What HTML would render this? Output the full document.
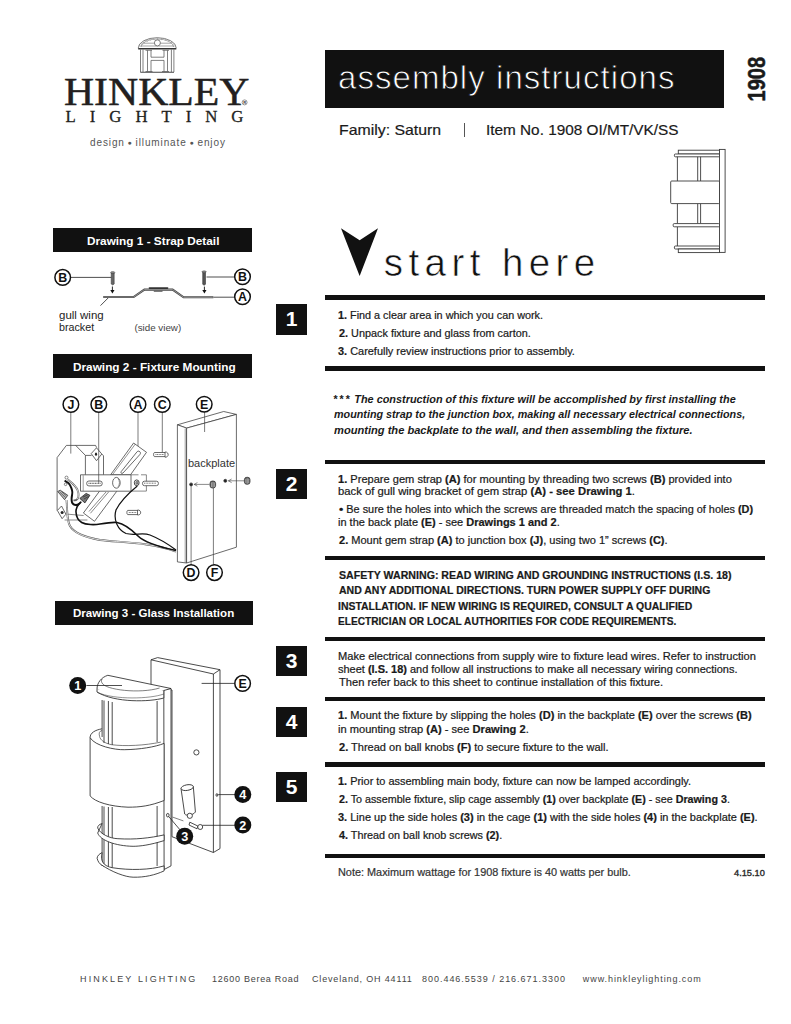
<!DOCTYPE html><html><head><meta charset="utf-8"><style>
html,body{margin:0;padding:0;background:#fff;width:791px;height:1024px;overflow:hidden;position:relative}
.t{position:absolute;white-space:nowrap}
.t b{font-weight:700}
.a{position:absolute}
</style></head><body>

<div class="a" style="left:324.5px;top:50.4px;width:399px;height:57.2px;background:#111"></div>
<div class="a" style="left:464px;top:123px;width:1px;height:14px;background:#555"></div>
<div class="a" style="left:53.3px;top:228.3px;width:198.4px;height:23.7px;background:#111"></div>
<div class="a" style="left:53.3px;top:354.2px;width:198.4px;height:23.6px;background:#111"></div>
<div class="a" style="left:54.7px;top:600.6px;width:198.3px;height:24.2px;background:#111"></div>
<div class="a" style="left:324.5px;top:295.4px;width:440.5px;height:4.3px;background:#111"></div>
<div class="a" style="left:324.5px;top:366.3px;width:440.5px;height:4.3px;background:#111"></div>
<div class="a" style="left:324.5px;top:460.1px;width:440.5px;height:4.3px;background:#111"></div>
<div class="a" style="left:324.5px;top:556.2px;width:440.5px;height:4.3px;background:#111"></div>
<div class="a" style="left:324.5px;top:636.6px;width:440.5px;height:4.3px;background:#111"></div>
<div class="a" style="left:324.5px;top:697.2px;width:440.5px;height:4.3px;background:#111"></div>
<div class="a" style="left:324.5px;top:762.4px;width:440.5px;height:4.3px;background:#111"></div>
<div class="a" style="left:324.5px;top:853.5px;width:440.5px;height:4.3px;background:#111"></div>
<div class="a" style="left:276.2px;top:304.3px;width:30.6px;height:30.4px;background:#111;color:#fff;font-family:'Liberation Sans', sans-serif;font-weight:700;font-size:21px;line-height:30.4px;text-align:center">1</div>
<div class="a" style="left:276.2px;top:469.0px;width:30.6px;height:29.8px;background:#111;color:#fff;font-family:'Liberation Sans', sans-serif;font-weight:700;font-size:21px;line-height:29.8px;text-align:center">2</div>
<div class="a" style="left:276.2px;top:645.6px;width:30.6px;height:30.4px;background:#111;color:#fff;font-family:'Liberation Sans', sans-serif;font-weight:700;font-size:21px;line-height:30.4px;text-align:center">3</div>
<div class="a" style="left:276.2px;top:706.5px;width:30.6px;height:30.1px;background:#111;color:#fff;font-family:'Liberation Sans', sans-serif;font-weight:700;font-size:21px;line-height:30.1px;text-align:center">4</div>
<div class="a" style="left:276.2px;top:771.7px;width:30.6px;height:29.9px;background:#111;color:#fff;font-family:'Liberation Sans', sans-serif;font-weight:700;font-size:21px;line-height:29.9px;text-align:center">5</div>
<svg class="a" style="left:0;top:0" width="791" height="1024" viewBox="0 0 791 1024">
<path d="M341,228.3 L359.65,240.3 L378,228.3 L359.65,276 Z" fill="#111"/>
<text transform="translate(765.4,101.5) rotate(-90)" font-family="'Liberation Sans', sans-serif" font-weight="700" font-size="23.2" fill="#1a1a1a" stroke="#1a1a1a" stroke-width="0.5" textLength="44.7" lengthAdjust="spacingAndGlyphs">1908</text>

<g fill="none" stroke="#555" stroke-width="0.75">
 <path d="M138.2,48.2 A19.05,10.5 0 0 1 176.3,48.2"/>
 <path d="M140.9,47 A16.35,8 0 0 1 173.6,47" stroke="#777" stroke-width="0.6"/>
 <path d="M138.7,45.7 L142.0,46.2 M140.1,43.6 L143.2,44.5 M142.4,41.6 L145.1,43.0 M145.4,40.0 L147.8,41.7 M149.0,38.8 L150.9,40.8 M153.0,38.1 L154.4,40.2 M157.2,37.8 L158.1,40.0 M161.5,38.1 L161.7,40.2 M165.5,38.8 L165.2,40.8 M169.1,40.0 L168.3,41.7 M172.1,41.6 L171.0,43.0 M174.4,43.6 L172.9,44.5 M175.8,45.7 L174.1,46.2" stroke="#888" stroke-width="0.5"/>
 <path d="M143.2,43.2 H171.6 M141.6,46 H173.8" stroke="#666" stroke-width="0.6"/>
 <circle cx="157.4" cy="42.9" r="3" fill="#fff"/>
 <path d="M138.2,48.7 L176.3,48.7" stroke="#333" stroke-width="1.5"/>
 <path d="M140.5,49.5 V72 M143,49.5 V72 M171.4,49.5 V72 M173.9,49.5 V72"/>
 <path d="M140.3,72.2 H174"  stroke="#444" stroke-width="1.1"/>
 <path d="M145.5,50.3 H152 M147.5,50.3 V71.5 M151,50.3 V57.2 M151,60.4 V71.5 M145.5,71.5 H152.5 M162.5,50.3 H169 M164,50.3 V57.2 M164,60.4 V71.5 M167.5,50.3 V71.5 M162,71.5 H169 M151,57.2 H164 M151,60.4 H164"/>
</g>
<circle cx="244.6" cy="102.4" r="2.5" fill="none" stroke="#333" stroke-width="0.5"/><text x="244.6" y="103.9" font-family="'Liberation Sans', sans-serif" font-size="4" font-weight="700" fill="#333" text-anchor="middle">R</text>

<g fill="#fff" stroke="#3a3a3a" stroke-width="0.9">
 <rect x="678.3" y="150.2" width="41.2" height="3.8"/>
 <rect x="674.4" y="154" width="45.1" height="2.8" rx="1"/>
 <path d="M677.4,156.8 V181 M697.7,156.8 V181 M700.6,156.8 V181"/>
 <path d="M677.4,203.6 V223.6 M697.7,203.6 V223.6 M700.6,203.6 V223.6 M677.4,226.8 V246"/>
 <rect x="670.7" y="181" width="48.8" height="22.6" rx="1"/>
 <rect x="673.2" y="223.6" width="46.3" height="3.2" rx="1"/>
 <rect x="674.4" y="246" width="45.1" height="3" rx="1"/>
 <rect x="678.3" y="249" width="41.2" height="3.6"/>
 <rect x="719.5" y="149.4" width="5.6" height="103"/>
</g>
<g><circle cx="62.7" cy="277.4" r="7.8" fill="#fff" stroke="#111" stroke-width="1.5"/><text x="62.7" y="281.9" font-family="'Liberation Sans', sans-serif" font-weight="700" font-size="12.4" fill="#111" text-anchor="middle">B</text><circle cx="242.5" cy="276.8" r="7.8" fill="#fff" stroke="#111" stroke-width="1.5"/><text x="242.5" y="281.3" font-family="'Liberation Sans', sans-serif" font-weight="700" font-size="12.4" fill="#111" text-anchor="middle">B</text><circle cx="242.5" cy="296.8" r="7.8" fill="#fff" stroke="#111" stroke-width="1.5"/><text x="242.5" y="301.3" font-family="'Liberation Sans', sans-serif" font-weight="700" font-size="12.4" fill="#111" text-anchor="middle">A</text><path d="M71,277.4 H111.5 M206.5,277 H234.2 M213.5,297.2 H234.2 M108.3,297.8 L100.5,305.6" stroke="#222" stroke-width="0.8" fill="none"/><path d="M111.2,273 h3 v11 l-1.5,1 l-1.5,-1 z" fill="#666" stroke="#333" stroke-width="0.5"/><ellipse cx="112.7" cy="272.6" rx="2.2" ry="1" fill="#888" stroke="#333" stroke-width="0.4"/><path d="M202.7,272.3 h2.8 v12 l-1.4,1 l-1.4,-1 z" fill="#555" stroke="#222" stroke-width="0.5"/><ellipse cx="204.1" cy="271.8" rx="2.2" ry="1" fill="#888" stroke="#333" stroke-width="0.4"/><path d="M112.4,286.5 V291" stroke="#111" stroke-width="0.9"/><path d="M110.3,290 h4.2 l-2.1,3.6 z" fill="#111"/><path d="M204.4,286.6 V291" stroke="#111" stroke-width="0.9"/><path d="M202.3,290 h4.2 l-2.1,3.6 z" fill="#111"/><path d="M103.3,297 H133.6 L144.4,289.6 H172.6 L183.6,297.3 H213.4" fill="none" stroke="#444" stroke-width="2.1"/><path d="M103.8,297 H133.6 L144.4,289.6 H172.6 L183.6,297.3 H212.8" fill="none" stroke="#9a9a9a" stroke-width="0.9"/><rect x="148.6" y="287.2" width="19.8" height="1.7" rx="0.8" fill="#333"/><path d="M153.8,291.3 H162.5" stroke="#333" stroke-width="0.8"/></g>
<g fill="none" stroke="#3a3a3a" stroke-width="0.75"><path d="M177.4,424.8 L223.7,411.5 L236.4,414.4 L186.6,428.1 Z" fill="#fff"/><path d="M177.4,424.8 V561.9 L186.6,563 V428.1 Z" fill="#fff"/><path d="M186.6,428.1 L236.4,414.4 V547.2 L186.6,563 Z" fill="#fff"/><path d="M185.2,428.5 V562.8" stroke-width="0.5"/><path d="M57.1,510.5 V457.6 L66.4,445.4 H95.6 L96.6,447.6 M75.7,445.4 L85.4,455.4 H91.6 M85.4,455.4 V474.8 M103.5,455.8 V474.8 M101.8,454 L103.5,455.8"/><path d="M91.2,453.6 L96.5,447.8 L101.8,454 L96.5,460.7 Z" fill="#fff"/><ellipse cx="96" cy="454.2" rx="1.1" ry="1.6" fill="#222" stroke="none"/><path d="M57.4,510.5 L61.5,506 L65.9,514.2 L62.1,518.7 Z" fill="#fff"/><circle cx="62.1" cy="512.4" r="1.5" fill="#222" stroke="none"/><path d="M64.6,520 L87.4,520 M67.8,514.2 L83.6,515.5" stroke-width="0.6"/><path d="M133.6,443 L146.5,452.3 L130.5,474.8 H110.6 Z" fill="#fff"/><path d="M135.4,444 L112.4,474.8" stroke-width="0.55"/><path d="M139,451.2 C140.5,452 141,453 139.8,454.6 L123,473 C121.7,474 120.3,473 121.2,471.6 L137.2,451.6 C137.7,451 138.4,450.9 139,451.2 Z" fill="#fff"/><path d="M116.8,491.2 L94.5,521.3 L83.4,513 L99.5,491.2" fill="#fff"/><path d="M108.6,492 L90.4,513.3 M106,492 L89,511.5" stroke-width="0.6"/><path d="M80.5,474.8 H131 V491.2 H80.5 Z" fill="#fff"/><path d="M83.2,475.3 V490.8" stroke-width="0.5"/><path d="M131,474.8 H138.5 M141,474.8 H146.4 V491.1 H131" stroke-width="0.6"/><ellipse cx="116.4" cy="482.8" rx="3.8" ry="5.4" fill="#fff"/><path d="M118,478.5 A3.8,5.4 0 0 1 118,487" stroke="#888" stroke-width="1"/><rect x="86.7" y="481" width="15.5" height="4.9" rx="2.2" fill="#fff"/><path d="M88.5,483.4 H100.5" stroke="#666" stroke-width="1.2" stroke-dasharray="1 0.6"/><ellipse cx="136.7" cy="482.8" rx="2.4" ry="2.9" fill="#fff" stroke="#333" stroke-width="0.9"/><ellipse cx="136.9" cy="482.8" rx="1.2" ry="1.6" fill="#999" stroke="#333" stroke-width="0.5"/><rect x="142.5" y="481.2" width="15.9" height="4.5" rx="2" fill="#fff"/><path d="M144,483.2 H156" stroke="#777" stroke-width="1" stroke-dasharray="1 0.6"/><path d="M154.4,452.5 H165 M154.4,456.6 H165 M154.4,452.5 C153.3,452.5 153.3,456.6 154.4,456.6 M165,452 C169,451.5 169.5,457.5 165,457.2 Z" fill="#fff"/><path d="M155.5,454.5 H164" stroke="#777" stroke-width="1" stroke-dasharray="1 0.6"/><path d="M127.7,510.4 H137.5 M127.7,514.6 H137.5 M127.7,510.4 C126.6,510.4 126.6,514.6 127.7,514.6 M137.5,510 C141.5,509.5 142,515.3 137.5,515 Z" fill="#fff"/><path d="M128.8,512.5 H136.5" stroke="#777" stroke-width="1" stroke-dasharray="1 0.6"/><path d="M66.5,500 C67.5,510 66.5,520 70,526 C74,533 84,537 100,540 C120,542.5 150,542 176,551.5" stroke="#555" stroke-width="1.9"/><path d="M66.5,500 C67.5,510 66.5,520 70,526 C74,533 84,537 100,540 C120,542.5 150,542 176,551.5" stroke="#fff" stroke-width="0.8"/><path d="M137.3,486 C130,492 121,500 116,510 C113,520 118,530 126,533.5 C135,536 142,532 150,535 C160,539 168,544 176,550" stroke="#111" stroke-width="1.2"/><path d="M79.8,502.9 C77,506 75.8,509 76,512 C76.2,516 77.5,520 81.7,522.5 C86,525 95,525 100,524 C106,523 112,522 117,522.5 C125,524 132,530 138,536 C144,542 155,546 176,550.5" stroke="#111" stroke-width="1.6"/><path d="M67.8,479.5 C72,483 76,486 77.5,490 C79,494 78.5,497.5 77.3,499.1 C76,500.5 74.5,500.5 73.5,500.3" stroke="#666" stroke-width="1.9"/><path d="M67.8,479.5 C72,483 76,486 77.5,490 C79,494 78.5,497.5 77.3,499.1" stroke="#fff" stroke-width="0.7"/><path d="M64.6,480.7 C67,482 69.5,483.5 70.3,485.8 C72,489 72.6,492 72.2,494 C71.6,497 71.2,500 72,502.5 C73,504.5 75.5,505.2 77.3,504.8 C79,504.4 80.5,502.8 81.1,501.6" stroke="#111" stroke-width="1.9"/><circle cx="66.5" cy="477.6" r="1.5" fill="#fff" stroke-width="0.6"/><circle cx="65.6" cy="484.3" r="1.3" fill="#fff" stroke-width="0.6"/><path d="M57.7,491.5 L60.2,490.2 L67.8,495.3 L64.6,499.7 Z" fill="#bbb" stroke="#222" stroke-width="0.7"/><path d="M59.5,491.8 L65.5,497.5 M61.5,491.5 L66.5,496" stroke="#333" stroke-width="0.6"/><path d="M79.8,498.4 L86.1,493.4 L89.9,495.3 L84.9,502.9 Z" fill="#777" stroke="#111" stroke-width="0.7"/><path d="M83,497 L87.5,495 M84,499 L88.5,496.5" stroke="#222" stroke-width="0.6"/><circle cx="191.1" cy="484.4" r="1.5" fill="#222"/><path d="M194.2,484.4 H209.5 M194.2,484.4 l3.2,-1.8 M194.2,484.4 l3.2,1.8" stroke-width="0.6"/><rect x="210" y="481" width="5.6" height="7" rx="2.4" fill="#666" stroke="#222" stroke-width="0.7"/><path d="M211.5,482.5 V487 M213,482 V487.5 M214.4,482.5 V487" stroke="#ddd" stroke-width="0.5"/><circle cx="225.3" cy="480.8" r="1.5" fill="#222"/><path d="M228.4,480.8 H244 M228.4,480.8 l3.2,-1.8 M228.4,480.8 l3.2,1.8" stroke-width="0.6"/><rect x="244.4" y="477.3" width="5.6" height="7" rx="2.4" fill="#666" stroke="#222" stroke-width="0.7"/><path d="M245.9,478.8 V483.3 M247.3,478.3 V483.8 M248.7,478.8 V483.3" stroke="#ddd" stroke-width="0.5"/><path d="M70.8,412.5 V453.6 M98.7,412.5 V482.8 M138,412.5 V446 M162.3,412.5 V452.3 M204.6,412 V432 M191.1,486 V565 M213.4,488 V565" stroke="#444" stroke-width="0.7"/></g><circle cx="70.9" cy="404.4" r="7.8" fill="#fff" stroke="#111" stroke-width="1.5"/><text x="70.9" y="408.9" font-family="'Liberation Sans', sans-serif" font-weight="700" font-size="12.4" fill="#111" text-anchor="middle">J</text><circle cx="98.8" cy="404.4" r="7.8" fill="#fff" stroke="#111" stroke-width="1.5"/><text x="98.8" y="408.9" font-family="'Liberation Sans', sans-serif" font-weight="700" font-size="12.4" fill="#111" text-anchor="middle">B</text><circle cx="138.0" cy="404.4" r="7.8" fill="#fff" stroke="#111" stroke-width="1.5"/><text x="138.0" y="408.9" font-family="'Liberation Sans', sans-serif" font-weight="700" font-size="12.4" fill="#111" text-anchor="middle">A</text><circle cx="162.3" cy="404.4" r="7.8" fill="#fff" stroke="#111" stroke-width="1.5"/><text x="162.3" y="408.9" font-family="'Liberation Sans', sans-serif" font-weight="700" font-size="12.4" fill="#111" text-anchor="middle">C</text><circle cx="204.2" cy="404.2" r="7.8" fill="#fff" stroke="#111" stroke-width="1.5"/><text x="204.2" y="408.7" font-family="'Liberation Sans', sans-serif" font-weight="700" font-size="12.4" fill="#111" text-anchor="middle">E</text><circle cx="191.1" cy="572.6" r="7.8" fill="#fff" stroke="#111" stroke-width="1.5"/><text x="191.1" y="577.1" font-family="'Liberation Sans', sans-serif" font-weight="700" font-size="12.4" fill="#111" text-anchor="middle">D</text><circle cx="214.5" cy="572.6" r="7.8" fill="#fff" stroke="#111" stroke-width="1.5"/><text x="214.5" y="577.1" font-family="'Liberation Sans', sans-serif" font-weight="700" font-size="12.4" fill="#111" text-anchor="middle">F</text>
<g fill="none" stroke="#2a2a2a" stroke-width="0.85"><path d="M151,659.8 L157.6,657.6 L220,669.7 V848.6 L213.4,852.5 L172,836.7 V690 L151,686 Z" fill="#fff"/><path d="M151,659.8 L213.4,674 V852.5 M213.4,674 L220,669.7"/><circle cx="196.4" cy="752.4" r="2.6"/><ellipse cx="216.9" cy="795" rx="0.9" ry="1.4"/><path d="M181,788.5 L184.7,814 C186,816 193,815.5 195.4,812 L193.3,786.5" fill="#fff"/><ellipse cx="187.2" cy="787.6" rx="6.2" ry="2.8" transform="rotate(-10 187.2 787.6)" fill="#fff"/><circle cx="189.8" cy="815.8" r="2.6" fill="#fff"/><path d="M172.6,817.1 L183.4,820.9" stroke-width="0.6"/><path d="M189.8,822.2 L197.8,826 L197,828.8 L189,825 Z" fill="#fff"/><circle cx="200.2" cy="827" r="2.5" fill="#fff"/><path d="M163.8,689 L171,688.5 V865.9 L164.1,869.5 Z" fill="#fff"/><path d="M97,689.2 C97,683 101,677.5 107.8,675.3 L171,688.5 L163.8,690.5 C150,697 115,698 97,689.2 Z" fill="#fff"/><path d="M97,689.2 V692 C115,703 150,702 163.8,698 V690.5" fill="#fff"/><path d="M102,682.9 C105,690 140,694 159.6,688" stroke-width="0.6"/><path d="M97.5,692.5 C115,700 150,699 163.8,694" stroke-width="0.5"/><path d="M102.1,679 C101,681 101.5,682 102,682.9" stroke-width="0.6"/><path d="M102.1,700 V737 M104,700.5 V743 M108.4,701 V744 M112.2,702 V745 M157.1,701 V742"/><path d="M90.1,737.7 C90,733 95,730 102.1,728.8 M90.1,737.7 C95,746 115,750 124.2,749.7 C140,749.5 155,747 164.1,743.4 V800.5 C150,806 140,807.2 128,807.2 C110,806.5 95,802 90.1,795.9 Z" fill="#fff"/><path d="M99.6,736.4 C100,740 105,743.5 111.6,744.7 C125,746.5 145,745.5 160.9,742.1" stroke-width="0.6"/><path d="M99.6,736.4 C98.5,733 99.5,731 102.1,730.5" stroke-width="0.6"/><path d="M102.1,806 V866 M104,806.5 V867 M108.4,807 V868 M112.2,807 V868 M157.1,806 V866"/><path d="M102.1,823.5 C99,824.5 97.5,826 97.7,828 C100,834 110,838.5 117.9,838.7 C135,839.8 150,838 164.1,834.9 V840.6 C150,845 140,846.3 133.1,846.3 C115,846 100,840 97.7,833 Z" fill="#fff"/><path d="M102.1,852.6 C99,854 97.2,856 97.1,858.3 C98,862 100,864 101,864.6 C112,872 125,877 133.1,877.2 C145,877.5 155,875 164.1,870.9 V865.9 C150,870 130,870.5 112.2,867.7 C104,866 100,862 102.1,852.6" fill="#fff"/><ellipse cx="167.8" cy="815.2" rx="1.3" ry="1.8"/><path d="M86.5,685.5 H122 M201.6,683.4 H234.5 M218.2,794.6 H235 M202.4,825.3 H235 M168.6,816.4 L181,831" stroke="#222" stroke-width="0.8"/></g><circle cx="77.7" cy="685.5" r="8.5" fill="#111"/><text x="77.7" y="690.0" font-family="'Liberation Sans', sans-serif" font-weight="700" font-size="12.7" fill="#fff" text-anchor="middle">1</text><circle cx="242.6" cy="683.4" r="7.8" fill="#fff" stroke="#111" stroke-width="1.5"/><text x="242.6" y="687.9" font-family="'Liberation Sans', sans-serif" font-weight="700" font-size="12.4" fill="#111" text-anchor="middle">E</text><circle cx="242.8" cy="794.6" r="8.5" fill="#111"/><text x="242.8" y="799.1" font-family="'Liberation Sans', sans-serif" font-weight="700" font-size="12.7" fill="#fff" text-anchor="middle">4</text><circle cx="242.8" cy="825.0" r="8.5" fill="#111"/><text x="242.8" y="829.5" font-family="'Liberation Sans', sans-serif" font-weight="700" font-size="12.7" fill="#fff" text-anchor="middle">2</text><circle cx="184.7" cy="836.3" r="8.5" fill="#111"/><text x="184.7" y="840.8" font-family="'Liberation Sans', sans-serif" font-weight="700" font-size="12.7" fill="#fff" text-anchor="middle">3</text>
</svg>
<div id="hinkley" class="t" style="left:63.97px;top:71.91px;font-size:40.60px;line-height:40.60px;font-family:'Liberation Serif', serif;font-weight:400;font-style:normal;color:#231f20;letter-spacing:0.000px;transform:scaleX(1.0279);transform-origin:0 0;-webkit-text-stroke:0.5px #231f20;">HINKLEY</div>
<div id="lighting" class="t" style="left:65.60px;top:108.81px;font-size:16.80px;line-height:16.80px;font-family:'Liberation Serif', serif;font-weight:400;font-style:normal;color:#231f20;letter-spacing:13.957px;-webkit-text-stroke:0.3px #231f20;">LIGHTING</div>
<div id="tag" class="t" style="left:90.00px;top:138.21px;font-size:10.00px;line-height:10.00px;font-family:'Liberation Sans', sans-serif;font-weight:400;font-style:normal;color:#555;letter-spacing:0.885px;">design<span style="font-size:7px;position:relative;top:-1px"> &#9679; </span>illuminate<span style="font-size:7px;position:relative;top:-1px"> &#9679; </span>enjoy</div>
<div id="assembly" class="t" style="left:338.00px;top:61.01px;font-size:33.00px;line-height:33.00px;font-family:'Liberation Sans', sans-serif;font-weight:400;font-style:normal;color:#ffffff;letter-spacing:1.050px;-webkit-text-stroke:0.85px #111;">assembly instructions</div>
<div id="family" class="t" style="left:339.11px;top:122.20px;font-size:15.00px;line-height:15.00px;font-family:'Liberation Sans', sans-serif;font-weight:400;font-style:normal;color:#1a1a1a;letter-spacing:0.000px;transform:scaleX(1.0568);transform-origin:0 0;-webkit-text-stroke:0.2px #1a1a1a;">Family: Saturn</div>
<div id="item" class="t" style="left:485.98px;top:122.20px;font-size:15.00px;line-height:15.00px;font-family:'Liberation Sans', sans-serif;font-weight:400;font-style:normal;color:#1a1a1a;letter-spacing:0.000px;transform:scaleX(1.0214);transform-origin:0 0;-webkit-text-stroke:0.2px #1a1a1a;">Item No. 1908 OI/MT/VK/SS</div>
<div id="d1" class="t" style="left:87.18px;top:236.01px;font-size:11.50px;line-height:11.50px;font-family:'Liberation Sans', sans-serif;font-weight:700;font-style:normal;color:#fff;letter-spacing:0.000px;transform:scaleX(1.0258);transform-origin:0 0;">Drawing 1 - Strap Detail</div>
<div id="d2" class="t" style="left:72.59px;top:361.91px;font-size:11.50px;line-height:11.50px;font-family:'Liberation Sans', sans-serif;font-weight:700;font-style:normal;color:#fff;letter-spacing:0.000px;transform:scaleX(1.0266);transform-origin:0 0;">Drawing 2 - Fixture Mounting</div>
<div id="d3" class="t" style="left:73.38px;top:608.32px;font-size:11.50px;line-height:11.50px;font-family:'Liberation Sans', sans-serif;font-weight:700;font-style:normal;color:#fff;letter-spacing:0.000px;transform:scaleX(1.0050);transform-origin:0 0;">Drawing 3 - Glass Installation</div>
<div id="start" class="t" style="left:383.79px;top:243.60px;font-size:38.50px;line-height:38.50px;font-family:'Liberation Sans', sans-serif;font-weight:400;font-style:normal;color:#111;letter-spacing:5.422px;-webkit-text-stroke:0.6px #fff;">start here</div>
<div id="s1a" class="t" style="left:338.35px;top:310.71px;font-size:10.30px;line-height:10.30px;font-family:'Liberation Sans', sans-serif;font-weight:400;font-style:normal;color:#1a1a1a;letter-spacing:0.000px;transform:scaleX(1.0505);transform-origin:0 0;-webkit-text-stroke:0.2px #1a1a1a;"><b>1.</b> Find a clear area in which you can work.</div>
<div id="s1b" class="t" style="left:339.40px;top:328.80px;font-size:10.30px;line-height:10.30px;font-family:'Liberation Sans', sans-serif;font-weight:400;font-style:normal;color:#1a1a1a;letter-spacing:0.000px;transform:scaleX(1.0538);transform-origin:0 0;-webkit-text-stroke:0.2px #1a1a1a;"><b>2.</b> Unpack fixture and glass from carton.</div>
<div id="s1c" class="t" style="left:338.34px;top:346.91px;font-size:10.30px;line-height:10.30px;font-family:'Liberation Sans', sans-serif;font-weight:400;font-style:normal;color:#1a1a1a;letter-spacing:0.000px;transform:scaleX(1.0622);transform-origin:0 0;-webkit-text-stroke:0.2px #1a1a1a;"><b>3.</b> Carefully review instructions prior to assembly.</div>
<div id="it1" class="t" style="left:332.58px;top:393.92px;font-size:10.60px;line-height:10.60px;font-family:'Liberation Sans', sans-serif;font-weight:700;font-style:italic;color:#1a1a1a;letter-spacing:0.000px;transform:scaleX(1.0269);transform-origin:0 0;"><span style="letter-spacing:1.8px">***</span> The construction of this fixture will be accomplished by first installing the</div>
<div id="it2" class="t" style="left:333.60px;top:409.42px;font-size:10.60px;line-height:10.60px;font-family:'Liberation Sans', sans-serif;font-weight:700;font-style:italic;color:#1a1a1a;letter-spacing:0.000px;transform:scaleX(1.0166);transform-origin:0 0;">mounting strap to the junction box, making all necessary electrical connections,</div>
<div id="it3" class="t" style="left:333.61px;top:424.81px;font-size:10.60px;line-height:10.60px;font-family:'Liberation Sans', sans-serif;font-weight:700;font-style:italic;color:#1a1a1a;letter-spacing:0.000px;transform:scaleX(1.0484);transform-origin:0 0;">mounting the backplate to the wall, and then assembling the fixture.</div>
<div id="s2a" class="t" style="left:338.33px;top:474.51px;font-size:10.30px;line-height:10.30px;font-family:'Liberation Sans', sans-serif;font-weight:400;font-style:normal;color:#1a1a1a;letter-spacing:0.000px;transform:scaleX(1.0751);transform-origin:0 0;-webkit-text-stroke:0.2px #1a1a1a;"><b>1.</b> Prepare gem strap <b>(A)</b> for mounting by threading two screws <b>(B)</b> provided into</div>
<div id="s2b" class="t" style="left:338.31px;top:487.41px;font-size:10.30px;line-height:10.30px;font-family:'Liberation Sans', sans-serif;font-weight:400;font-style:normal;color:#1a1a1a;letter-spacing:0.000px;transform:scaleX(1.0948);transform-origin:0 0;-webkit-text-stroke:0.2px #1a1a1a;">back of gull wing bracket of gem strap <b>(A) - see Drawing 1</b>.</div>
<div id="s2c" class="t" style="left:339.40px;top:504.10px;font-size:10.30px;line-height:10.30px;font-family:'Liberation Sans', sans-serif;font-weight:400;font-style:normal;color:#1a1a1a;letter-spacing:0.000px;transform:scaleX(1.0575);transform-origin:0 0;-webkit-text-stroke:0.2px #1a1a1a;"><b style="font-size:11.5px">&#8226;</b> Be sure the holes into which the screws are threaded match the spacing of holes <b>(D)</b></div>
<div id="s2d" class="t" style="left:338.33px;top:518.41px;font-size:10.30px;line-height:10.30px;font-family:'Liberation Sans', sans-serif;font-weight:400;font-style:normal;color:#1a1a1a;letter-spacing:0.000px;transform:scaleX(1.0670);transform-origin:0 0;-webkit-text-stroke:0.2px #1a1a1a;">in the back plate <b>(E)</b> - see <b>Drawings 1 and 2</b>.</div>
<div id="s2e" class="t" style="left:339.40px;top:536.21px;font-size:10.30px;line-height:10.30px;font-family:'Liberation Sans', sans-serif;font-weight:400;font-style:normal;color:#1a1a1a;letter-spacing:0.000px;transform:scaleX(1.0712);transform-origin:0 0;-webkit-text-stroke:0.2px #1a1a1a;"><b>2.</b> Mount gem strap <b>(A)</b> to junction box <b>(J)</b>, using two 1&#8221; screws <b>(C)</b>.</div>
<div id="w1" class="t" style="left:339.40px;top:570.75px;font-size:10.20px;line-height:10.20px;font-family:'Liberation Sans', sans-serif;font-weight:700;font-style:normal;color:#1a1a1a;letter-spacing:0.000px;transform:scaleX(1.0414);transform-origin:0 0;-webkit-text-stroke:0.2px #1a1a1a;">SAFETY WARNING: READ WIRING AND GROUNDING INSTRUCTIONS (I.S. 18)</div>
<div id="w2" class="t" style="left:339.39px;top:586.00px;font-size:10.20px;line-height:10.20px;font-family:'Liberation Sans', sans-serif;font-weight:700;font-style:normal;color:#1a1a1a;letter-spacing:0.000px;transform:scaleX(1.0300);transform-origin:0 0;-webkit-text-stroke:0.2px #1a1a1a;">AND ANY ADDITIONAL DIRECTIONS. TURN POWER SUPPLY OFF DURING</div>
<div id="w3" class="t" style="left:338.37px;top:601.72px;font-size:10.20px;line-height:10.20px;font-family:'Liberation Sans', sans-serif;font-weight:700;font-style:normal;color:#1a1a1a;letter-spacing:0.000px;transform:scaleX(1.0252);transform-origin:0 0;-webkit-text-stroke:0.2px #1a1a1a;">INSTALLATION. IF NEW WIRING IS REQUIRED, CONSULT A QUALIFIED</div>
<div id="w4" class="t" style="left:338.39px;top:616.81px;font-size:10.20px;line-height:10.20px;font-family:'Liberation Sans', sans-serif;font-weight:700;font-style:normal;color:#1a1a1a;letter-spacing:0.000px;transform:scaleX(0.9944);transform-origin:0 0;-webkit-text-stroke:0.2px #1a1a1a;">ELECTRICIAN OR LOCAL AUTHORITIES FOR CODE REQUIREMENTS.</div>
<div id="s3a" class="t" style="left:338.32px;top:652.01px;font-size:10.30px;line-height:10.30px;font-family:'Liberation Sans', sans-serif;font-weight:400;font-style:normal;color:#1a1a1a;letter-spacing:0.000px;transform:scaleX(1.0770);transform-origin:0 0;-webkit-text-stroke:0.2px #1a1a1a;">Make electrical connections from supply wire to fixture lead wires. Refer to instruction</div>
<div id="s3b" class="t" style="left:338.33px;top:664.80px;font-size:10.30px;line-height:10.30px;font-family:'Liberation Sans', sans-serif;font-weight:400;font-style:normal;color:#1a1a1a;letter-spacing:0.000px;transform:scaleX(1.0655);transform-origin:0 0;-webkit-text-stroke:0.2px #1a1a1a;">sheet <b>(I.S. 18)</b> and follow all instructions to make all necessary wiring connections.</div>
<div id="s3c" class="t" style="left:339.40px;top:677.80px;font-size:10.30px;line-height:10.30px;font-family:'Liberation Sans', sans-serif;font-weight:400;font-style:normal;color:#1a1a1a;letter-spacing:0.000px;transform:scaleX(1.0829);transform-origin:0 0;-webkit-text-stroke:0.2px #1a1a1a;">Then refer back to this sheet to continue installation of this fixture.</div>
<div id="s4a" class="t" style="left:338.33px;top:711.30px;font-size:10.30px;line-height:10.30px;font-family:'Liberation Sans', sans-serif;font-weight:400;font-style:normal;color:#1a1a1a;letter-spacing:0.000px;transform:scaleX(1.0737);transform-origin:0 0;-webkit-text-stroke:0.2px #1a1a1a;"><b>1.</b> Mount the fixture by slipping the holes <b>(D)</b> in the backplate <b>(E)</b> over the screws <b>(B)</b></div>
<div id="s4b" class="t" style="left:338.32px;top:724.51px;font-size:10.30px;line-height:10.30px;font-family:'Liberation Sans', sans-serif;font-weight:400;font-style:normal;color:#1a1a1a;letter-spacing:0.000px;transform:scaleX(1.0784);transform-origin:0 0;-webkit-text-stroke:0.2px #1a1a1a;">in mounting strap <b>(A)</b> - see <b>Drawing 2</b>.</div>
<div id="s4c" class="t" style="left:339.40px;top:742.60px;font-size:10.30px;line-height:10.30px;font-family:'Liberation Sans', sans-serif;font-weight:400;font-style:normal;color:#1a1a1a;letter-spacing:0.000px;transform:scaleX(1.0709);transform-origin:0 0;-webkit-text-stroke:0.2px #1a1a1a;"><b>2.</b> Thread on ball knobs <b>(F)</b> to secure fixture to the wall.</div>
<div id="s5a" class="t" style="left:338.34px;top:777.30px;font-size:10.30px;line-height:10.30px;font-family:'Liberation Sans', sans-serif;font-weight:400;font-style:normal;color:#1a1a1a;letter-spacing:0.000px;transform:scaleX(1.0628);transform-origin:0 0;-webkit-text-stroke:0.2px #1a1a1a;"><b>1.</b> Prior to assembling main body, fixture can now be lamped accordingly.</div>
<div id="s5b" class="t" style="left:339.40px;top:794.80px;font-size:10.30px;line-height:10.30px;font-family:'Liberation Sans', sans-serif;font-weight:400;font-style:normal;color:#1a1a1a;letter-spacing:0.000px;transform:scaleX(1.0416);transform-origin:0 0;-webkit-text-stroke:0.2px #1a1a1a;"><b>2.</b> To assemble fixture, slip cage assembly <b>(1)</b> over backplate <b>(E)</b> - see <b>Drawing 3</b>.</div>
<div id="s5c" class="t" style="left:338.33px;top:813.30px;font-size:10.30px;line-height:10.30px;font-family:'Liberation Sans', sans-serif;font-weight:400;font-style:normal;color:#1a1a1a;letter-spacing:0.000px;transform:scaleX(1.0671);transform-origin:0 0;-webkit-text-stroke:0.2px #1a1a1a;"><b>3.</b> Line up the side holes <b>(3)</b> in the cage <b>(1)</b> with the side holes <b>(4)</b> in the backplate <b>(E)</b>.</div>
<div id="s5d" class="t" style="left:339.40px;top:831.41px;font-size:10.30px;line-height:10.30px;font-family:'Liberation Sans', sans-serif;font-weight:400;font-style:normal;color:#1a1a1a;letter-spacing:0.000px;transform:scaleX(1.0497);transform-origin:0 0;-webkit-text-stroke:0.2px #1a1a1a;"><b>4.</b> Thread on ball knob screws <b>(2)</b>.</div>
<div id="note" class="t" style="left:338.34px;top:868.30px;font-size:10.30px;line-height:10.30px;font-family:'Liberation Sans', sans-serif;font-weight:400;font-style:normal;color:#333;letter-spacing:0.000px;transform:scaleX(1.0572);transform-origin:0 0;-webkit-text-stroke:0.2px #333;">Note: Maximum wattage for 1908 fixture is 40 watts per bulb.</div>
<div id="date" class="t" style="left:733.78px;top:869.30px;font-size:8.60px;line-height:8.60px;font-family:'Liberation Sans', sans-serif;font-weight:400;font-style:normal;color:#2a2a2a;letter-spacing:0.000px;transform:scaleX(1.0750);transform-origin:0 0;-webkit-text-stroke:0.35px #2a2a2a;">4.15.10</div>
<div id="f1" class="t" style="left:80.00px;top:975.31px;font-size:9.00px;line-height:9.00px;font-family:'Liberation Sans', sans-serif;font-weight:400;font-style:normal;color:#444;letter-spacing:2.133px;">HINKLEY LIGHTING</div>
<div id="f2" class="t" style="left:212.00px;top:975.31px;font-size:9.00px;line-height:9.00px;font-family:'Liberation Sans', sans-serif;font-weight:400;font-style:normal;color:#444;letter-spacing:0.733px;">12600 Berea Road</div>
<div id="f3" class="t" style="left:312.00px;top:975.31px;font-size:9.00px;line-height:9.00px;font-family:'Liberation Sans', sans-serif;font-weight:400;font-style:normal;color:#444;letter-spacing:0.839px;">Cleveland, OH 44111</div>
<div id="f4" class="t" style="left:422.00px;top:975.31px;font-size:9.00px;line-height:9.00px;font-family:'Liberation Sans', sans-serif;font-weight:400;font-style:normal;color:#444;letter-spacing:0.973px;">800.446.5539 / 216.671.3300</div>
<div id="f5" class="t" style="left:582.79px;top:975.31px;font-size:9.00px;line-height:9.00px;font-family:'Liberation Sans', sans-serif;font-weight:400;font-style:normal;color:#444;letter-spacing:0.927px;">www.hinkleylighting.com</div>
<div id="gull" class="t" style="left:59.16px;top:310.01px;font-size:10.60px;line-height:10.60px;font-family:'Liberation Sans', sans-serif;font-weight:400;font-style:normal;color:#222;letter-spacing:0.000px;transform:scaleX(1.0829);transform-origin:0 0;">gull wing</div>
<div id="brk" class="t" style="left:59.19px;top:321.51px;font-size:10.60px;line-height:10.60px;font-family:'Liberation Sans', sans-serif;font-weight:400;font-style:normal;color:#222;letter-spacing:0.000px;transform:scaleX(1.0114);transform-origin:0 0;">bracket</div>
<div id="side" class="t" style="left:134.39px;top:323.30px;font-size:9.80px;line-height:9.80px;font-family:'Liberation Sans', sans-serif;font-weight:400;font-style:normal;color:#444;letter-spacing:0.000px;transform:scaleX(1.0000);transform-origin:0 0;">(side view)</div>
<div id="bp" class="t" style="left:188.00px;top:457.61px;font-size:11.00px;line-height:11.00px;font-family:'Liberation Sans', sans-serif;font-weight:400;font-style:normal;color:#333;letter-spacing:0.000px;">backplate</div>
</body></html>
